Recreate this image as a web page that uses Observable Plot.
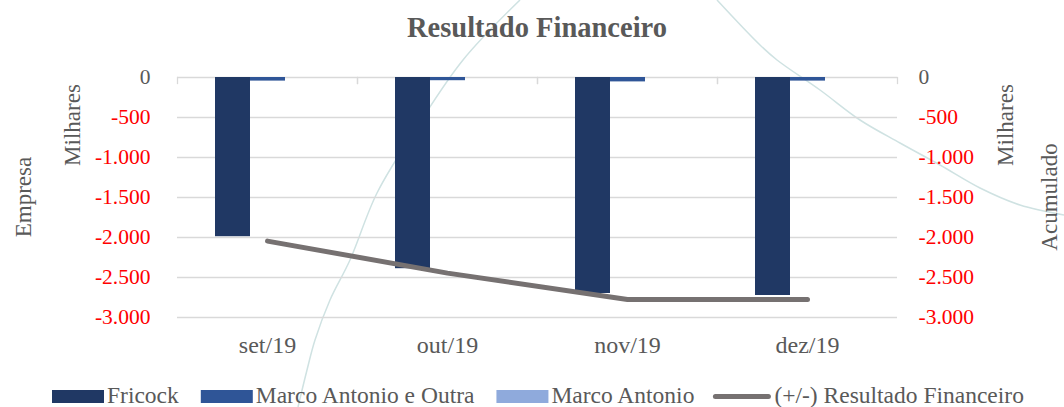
<!DOCTYPE html>
<html><head><meta charset="utf-8">
<script src="https://cdn.jsdelivr.net/npm/d3@7"></script>
<script src="https://cdn.jsdelivr.net/npm/@observablehq/plot@0.6"></script>
<style>
body{margin:0;background:#fff;font-family:"Liberation Serif",serif;}
#chart{position:relative;width:1064px;height:407px;overflow:hidden;}
#chart svg{position:absolute;left:0;top:0;}
</style></head><body><div id="chart"></div>
<script>
// ---- data ----
const months = ["set/19","out/19","nov/19","dez/19"];
const series = ["Fricock","Marco Antonio e Outra","Marco Antonio"];
const fricock = [-1990,-2390,-2700,-2725];
const marcoOutra = [-45,-40,-55,-45];
const marco = [0,0,0,0];
const resultado = [-2045,-2445,-2775,-2775];
const lineName = "(+/-) Resultado Financeiro";
const yTicksNeg = [-500,-1000,-1500,-2000,-2500,-3000];
const yTickZero = [0];
const title = "Resultado Financeiro";

// ---- style ----
const colors = ["#203864","#2F5597","#8FAADC"];
const lineColor = "#767171";
const textGray = "#595959";
const W = 1064, H = 407, mt = 77, mb = 90, ml = 177, mr = 167;
const font = "'Liberation Serif', 'DejaVu Serif', serif";
const fmt = d3.formatLocale({decimal:",", thousands:".", grouping:[3], currency:["R$",""], minus:"-"}).format(",d");

const seriesValues = [fricock, marcoOutra, marco];
const bars = months.flatMap((m,i)=>series.map((s,k)=>({month:m, series:s, value:seriesValues[k][i]})));
const lineData = months.map((m,i)=>({month:m, value:resultado[i]}));

const chart = document.getElementById("chart");

// decorative background watermark curves (not data)
const deco = d3.select(chart).append("svg").attr("width", W).attr("height", H);
const decoCurves = [
  [[298,407],[307,370],[315,340],[330,300],[350,260],[377,193],[417,127],[463,60],[520,0]],
  [[717,0],[760,45],[777,60],[820,90],[860,120],[900,143],[940,165],[980,188],[1020,205],[1064,215]]
];
for (const c of decoCurves) {
  deco.append("path").attr("d", d3.line().curve(d3.curveCatmullRom)(c))
    .attr("fill","none").attr("stroke","#cfe2e2").attr("stroke-width",1.5);
}

const common = {width:W, height:H, marginTop:mt, marginBottom:mb, marginLeft:ml, marginRight:mr,
  style:{fontFamily:font, background:"transparent", color:textGray}};

const p1 = Plot.plot({
  ...common,
  fx:{domain:months, padding:0, label:null},
  x:{domain:series, paddingInner:0, paddingOuter:1.071, axis:null},
  y:{domain:[-3000,0], axis:null},
  color:{domain:series, range:colors},
  marks:[
    Plot.gridY([...yTickZero, ...yTicksNeg], {stroke:"#d9d9d9", strokeOpacity:1, strokeWidth:1.3}),
    Plot.frame({anchor:"left", insetBottom:234, stroke:"#d9d9d9", strokeWidth:1.3}),
    Plot.frame({anchor:"right", insetBottom:234, stroke:"#d9d9d9", strokeWidth:1.3}),
    Plot.axisY(yTicksNeg, {anchor:"left", tickSize:0, tickPadding:27, fill:"#FF0000", fontSize:21.5, tickFormat:fmt, label:null}),
    Plot.axisY(yTickZero, {anchor:"left", tickSize:0, tickPadding:27, fill:textGray, fontSize:21.5, tickFormat:fmt, label:null}),
    Plot.axisFx({anchor:"bottom", tickSize:0, tickPadding:18, fontSize:24, fill:textGray, label:null}),
    Plot.barY(bars, {fx:"month", x:"series", y:"value", fill:"series"})
  ]
});
chart.appendChild(p1);

const p2 = Plot.plot({
  ...common,
  x:{type:"point", domain:months, padding:0.5, axis:null},
  y:{domain:[-3000,0], axis:null},
  marks:[
    Plot.axisY(yTicksNeg, {anchor:"right", tickSize:0, tickPadding:21, fill:"#FF0000", fontSize:21.5, tickFormat:fmt, label:null}),
    Plot.axisY(yTickZero, {anchor:"right", tickSize:0, tickPadding:21, fill:textGray, fontSize:21.5, tickFormat:fmt, label:null}),
    Plot.line(lineData, {x:"month", y:"value", stroke:lineColor, strokeWidth:5, strokeLinecap:"round", strokeLinejoin:"round"})
  ]
});
chart.appendChild(p2);

// ---- titles & legend overlay ----
const svg = d3.select(chart).append("svg").attr("width", W).attr("height", H)
  .style("font-family", font).style("pointer-events","none");
svg.append("text").attr("x", 537).attr("y", 37).attr("text-anchor","middle")
  .attr("font-size", 28.5).attr("font-weight","bold").attr("fill", textGray).text(title);
const axisTitles = [
  {t:"Empresa", x:31, y:197},
  {t:"Milhares", x:80, y:125},
  {t:"Milhares", x:1013, y:125},
  {t:"Acumulado", x:1057, y:197}
];
for (const a of axisTitles) {
  svg.append("text").attr("transform", `translate(${a.x},${a.y}) rotate(-90)`)
    .attr("text-anchor","middle").attr("font-size",23).attr("fill",textGray).text(a.t);
}
// legend
const lg = svg.append("g");
let lx = 52;
const ly = 403;
series.forEach((s,k)=>{
  lg.append("rect").attr("x", lx).attr("y", ly-13).attr("width", 52).attr("height", 13).attr("fill", colors[k]);
  const t = lg.append("text").attr("x", lx+55).attr("y", ly).attr("font-size",23.5).attr("fill",textGray).text(s);
  lx += 55 + t.node().getComputedTextLength() + 22;
});
lx -= 4;
lg.append("line").attr("x1", lx+3).attr("x2", lx+56).attr("y1", ly-6.5).attr("y2", ly-6.5)
  .attr("stroke", lineColor).attr("stroke-width",5).attr("stroke-linecap","round");
lg.append("text").attr("x", lx+62).attr("y", ly).attr("font-size",23.5).attr("fill",textGray).text(lineName);
</script></body></html>
